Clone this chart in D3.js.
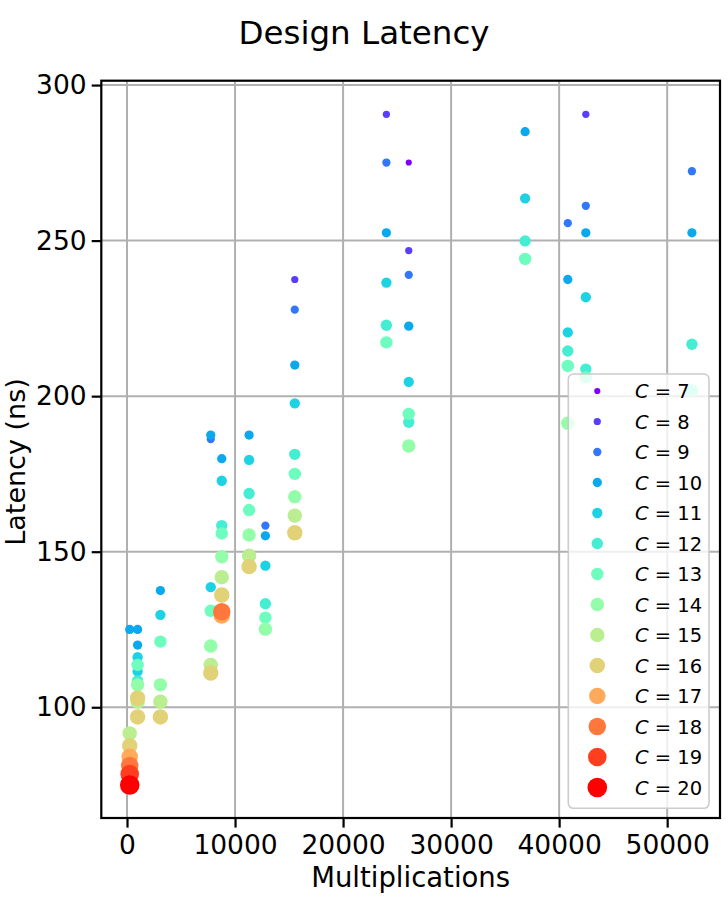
<!DOCTYPE html>
<html>
<head>
<meta charset="utf-8">
<script src="https://cdn.jsdelivr.net/npm/d3@7"></script>
<style>
  body { margin: 0; background: #fff; }
  text { font-family: "DejaVu Sans", sans-serif; }
</style>
</head>
<body>
<div id="vis1"></div>
<script>
// chart values
const cValues = [7, 8, 9, 10, 11, 12, 13, 14, 15, 16, 17, 18, 19, 20];
const xTicks = [0, 10000, 20000, 30000, 40000, 50000];
const yTicks = [100, 150, 200, 250, 300];

// [multiplications, latency ns] for each C
const c7Points = [[26080, 275.1]];
const c8Points = [[15530, 237.5], [24010, 290.6], [26080, 246.8], [42470, 290.6]];
const c9Points = [[7750, 186.2], [12810, 158.4], [15530, 227.8], [24010, 275.1], [26080, 239.0],
  [40800, 255.6], [42470, 261.2], [52290, 272.3]];
const c10Points = [[250, 125.0], [980, 125.0], [980, 120.0], [3090, 137.5], [7750, 187.5], [8770, 179.9],
  [11300, 187.5], [12810, 155.1], [15530, 210.0], [24010, 252.5], [26080, 222.5], [36850, 285.0],
  [40800, 237.5], [42470, 252.5], [52290, 252.5]];
const c11Points = [[980, 116.1], [980, 111.5], [3090, 129.7], [7750, 138.6], [8770, 172.8], [11300, 179.5],
  [12810, 145.5], [15530, 197.7], [24010, 236.5], [26080, 204.6], [36850, 263.6], [40800, 220.5],
  [42470, 231.8]];
const c12Points = [[980, 108.5], [8770, 158.4], [11300, 168.7], [12810, 133.3], [15530, 181.3], [24010, 222.8],
  [26080, 191.6], [36850, 249.9], [40800, 214.5], [42470, 208.7], [52290, 216.7]];
const c13Points = [[980, 113.6], [3090, 121.1], [7750, 131.0], [8770, 155.9], [11300, 163.4], [12810, 128.8],
  [15530, 175.0], [24010, 217.3], [26080, 194.3], [36850, 244.1], [40800, 209.7], [42470, 206.1],
  [52290, 201.8]];
const c14Points = [[980, 107.2], [3090, 107.2], [7750, 119.7], [8770, 148.4], [11300, 155.4], [12810, 125.1],
  [15530, 167.7], [26080, 184.0], [40800, 191.3]];
const c15Points = [[250, 91.6], [980, 101.8], [3090, 101.8], [7750, 113.6], [8770, 141.8], [11300, 148.7],
  [15530, 161.6]];
const c16Points = [[250, 87.6], [980, 103.0], [980, 96.9], [3090, 96.9], [7750, 111.0], [8770, 136.1],
  [11300, 145.2], [15530, 156.1]];
const c17Points = [[250, 84.1], [8770, 129.5]];
const c18Points = [[250, 81.3], [8770, 130.7]];
const c19Points = [[250, 78.5]];
const c20Points = [[250, 75.0]];

const pointsByC = [c7Points, c8Points, c9Points, c10Points, c11Points, c12Points, c13Points,
  c14Points, c15Points, c16Points, c17Points, c18Points, c19Points, c20Points];

let margin = { top: 80.7, left: 101.3, right: 8, bottom: 82 },
  W = 728, H = 900,
  width = W - margin.left - margin.right,
  height = H - margin.top - margin.bottom;

let svg1 = d3.select('#vis1')
  .append('svg')
  .attr('width', W)
  .attr('height', H)
  .attr('viewBox', [0, 0, W, H].join(' '));

// matplotlib "rainbow" colormap
function rainbow(t) {
  let clip = v => Math.max(0, Math.min(1, v));
  let r = clip(Math.abs(2 * t - 0.5)),
    g = clip(Math.sin(Math.PI * t)),
    b = clip(Math.cos(Math.PI * t / 2));
  return d3.rgb(r * 255, g * 255, b * 255).formatHex();
}
let color = c => rainbow((c - 7) / 13);
let radius = d3.scaleLinear().domain([7, 20]).range([3.1, 9.8]);

let x = d3.scaleLinear().domain([-2380, 54890]).range([0, width]);
let y = d3.scaleLinear().domain([64.4, 301.4]).range([height, 0]);

let plot = svg1.append('g')
  .attr('transform', `translate(${margin.left},${margin.top})`);

// grid
plot.append('g')
  .selectAll('line.gx')
  .data(xTicks)
  .join('line')
    .attr('x1', d => x(d)).attr('x2', d => x(d))
    .attr('y1', 0).attr('y2', height)
    .attr('stroke', '#b0b0b0').attr('stroke-width', 2);
plot.append('g')
  .selectAll('line.gy')
  .data(yTicks)
  .join('line')
    .attr('y1', d => y(d)).attr('y2', d => y(d))
    .attr('x1', 0).attr('x2', width)
    .attr('stroke', '#b0b0b0').attr('stroke-width', 2);

// scatter, one group per C (higher C drawn on top)
plot.append('g')
  .selectAll('g')
  .data(cValues)
  .join('g')
    .attr('fill', d => color(d))
  .selectAll('circle')
  .data((c, i) => pointsByC[i].map(p => ({ c, p })))
  .join('circle')
    .attr('cx', d => x(d.p[0]))
    .attr('cy', d => y(d.p[1]))
    .attr('r', d => radius(d.c));

// axes
let xAxis = plot.append('g')
  .attr('transform', `translate(0,${height})`)
  .call(d3.axisBottom(x).tickValues(xTicks).tickFormat(d3.format('d')).tickSize(9.6).tickPadding(8).tickSizeOuter(0));
let yAxis = plot.append('g')
  .call(d3.axisLeft(y).tickValues(yTicks).tickSize(9.6).tickPadding(5).tickSizeOuter(0));

[xAxis, yAxis].forEach(a => {
  a.select('.domain').remove();
  a.selectAll('line').attr('stroke', '#000').attr('stroke-width', 2.2);
  a.selectAll('text').attr('font-size', 26.5).attr('fill', '#000')
    .attr('font-family', '"DejaVu Sans", sans-serif');
});

// frame
plot.append('rect')
  .attr('width', width).attr('height', height)
  .attr('fill', 'none').attr('stroke', '#000').attr('stroke-width', 2.2);

// legend
let legend = plot.append('g')
  .attr('transform', `translate(${568.3 - margin.left},${374 - margin.top})`);
legend.append('rect')
  .attr('width', 140.7).attr('height', 434.3)
  .attr('rx', 5).attr('ry', 5)
  .attr('fill', '#fff').attr('fill-opacity', 0.8)
  .attr('stroke', '#cccccc').attr('stroke-width', 1.6);

let rows = legend.selectAll('g.row')
  .data(cValues)
  .join('g')
    .attr('transform', (d, i) => `translate(0,${17 + i * 30.5})`);
rows.append('circle')
  .attr('cx', 29)
  .attr('r', d => radius(d))
  .attr('fill', d => color(d));
let labels = rows.append('text')
  .attr('x', 66.7)
  .attr('y', 7)
  .attr('font-size', 19.5);
labels.append('tspan').attr('font-style', 'italic').text('C');
labels.append('tspan').text(d => ' = ' + d);

// axis labels
svg1.append('text')
  .attr('x', margin.left + width / 2)
  .attr('y', 887)
  .attr('text-anchor', 'middle')
  .attr('font-size', 27.5)
  .text('Multiplications');

svg1.append('text')
  .attr('transform', `translate(25,462) rotate(-90)`)
  .attr('text-anchor', 'middle')
  .attr('font-size', 27)
  .text('Latency (ns)');

// title
svg1.append('text')
  .attr('x', W / 2)
  .attr('y', 44)
  .attr('text-anchor', 'middle')
  .attr('font-size', 32.5)
  .text('Design Latency');
</script>
</body>
</html>
